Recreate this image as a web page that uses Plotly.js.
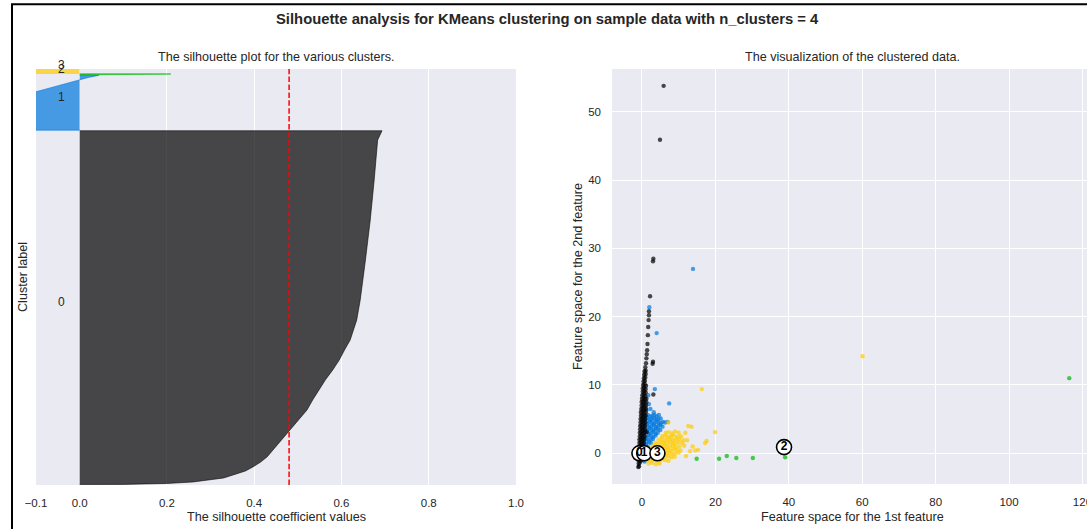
<!DOCTYPE html>
<html>
<head>
<meta charset="utf-8">
<script src="https://cdn.plot.ly/plotly-3.0.1.min.js"></script>
<style>
html,body{margin:0;padding:0;background:#fff;overflow:hidden;width:1087px;height:529px;}
#chart{width:1100px;height:529px;}
</style>
</head>
<body>
<div id="chart"></div>
<script>
// ---------------- DATA ----------------
const nClusters = 4;
const clusterLabels = ["0", "1", "2", "3"];
const silhouetteAvg = 0.48;

// silhouette outlines (sorted coefficient value vs sample position)
const sil0Values = [0.0, 0.1, 0.2, 0.26, 0.33, 0.353, 0.38, 0.398, 0.415, 0.430, 0.445, 0.460, 0.476, 0.490, 0.506, 0.521, 0.534, 0.544, 0.553, 0.563, 0.58, 0.595, 0.607, 0.62, 0.635, 0.643, 0.655, 0.666, 0.675, 0.683, 0.693];
const sil0Pos    = [10, 12, 30, 58, 135, 192, 269, 352, 442, 544, 692, 833, 981, 1121, 1288, 1442, 1635, 1769, 1885, 2019, 2211, 2404, 2596, 2788, 3173, 3558, 4327, 5096, 5865, 6635, 6813];
const sil1Values = [-0.4, -0.1, -0.05, 0.0, 0.02, 0.04, 0.045];
const sil1Pos    = [6823, 7563, 7683, 7802, 7837, 7871, 7885];
const sil2Values = [0.01, 0.209];
const sil2Pos    = [7895, 7905];
const sil3Values = [-0.35, -0.15];
const sil3Pos    = [7915, 7990];
const clusterLabelPos = [3411, 7354, 7890, 7961];
const silXTicks = [-0.1, 0.0, 0.2, 0.4, 0.6, 0.8, 1.0];

// scatter of clustered data
const c0x = [-1.0,-0.8,-0.9,-0.6,-1.0,-0.6,-0.3,-0.9,-0.5,-0.1,-0.9,-0.5,-0.1,0.3,-0.8,-0.4,0.0,0.4,-0.8,-0.4,0.0,0.4,-0.7,-0.3,0.1,0.5,-0.7,-0.3,0.1,0.6,-0.6,-0.2,0.2,0.7,-0.6,-0.2,0.2,0.7,1.3,-0.5,-0.1,0.3,0.8,-0.5,-0.1,0.3,0.8,-0.4,0.0,0.4,0.9,-0.4,0.0,0.4,0.9,-0.3,0.1,0.5,1.0,-0.3,0.1,0.5,1.0,-0.2,0.2,0.6,1.1,-0.1,0.3,0.7,1.1,-0.1,0.3,0.7,1.2,0.0,0.4,0.8,1.2,0.1,0.5,0.9,0.2,0.6,1.0,0.2,0.6,1.0,0.3,0.7,1.1,0.4,0.8,0.5,0.9,0.6,1.0,0.7,1.0,0.9,1.1,1.2,1.3,1.4,1.5,1.6,1.7,1.8,1.9,1.9,2.2,3.0,3.1,2.9,3.0,3.1,4.9,5.9];
const c0y = [-2.0,-1.9,-1.5,-1.4,-1.0,-0.9,-1.1,-0.5,-0.4,-0.6,0.0,0.1,-0.1,0.1,0.5,0.6,0.4,0.5,1.0,1.1,0.9,1.0,1.5,1.6,1.4,1.5,2.0,2.1,1.9,2.0,2.5,2.6,2.4,2.5,3.0,3.1,2.9,3.0,3.1,3.5,3.6,3.4,3.5,4.0,4.1,3.9,4.0,4.5,4.6,4.4,4.5,5.0,5.1,4.9,5.0,5.5,5.6,5.4,5.5,6.0,6.1,5.9,6.0,6.5,6.6,6.4,6.5,7.0,7.1,6.9,7.0,7.5,7.6,7.4,7.5,8.0,8.1,7.9,8.0,8.5,8.6,8.4,9.0,9.1,8.9,9.5,9.6,9.4,10.0,10.1,9.9,10.5,10.6,11.0,11.1,11.5,11.6,12.0,12.1,12.6,13.2,13.9,14.5,15.1,16.0,17.3,18.5,19.5,20.2,20.8,23.0,28.1,28.5,13.1,13.4,8.6,45.9,53.8];

const c1x = [1.0,1.6,2.2,2.8,3.4,4.0,0.9,1.5,2.1,2.7,3.3,3.9,4.5,5.1,0.9,1.5,2.1,2.7,3.3,3.9,4.5,5.1,5.7,6.3,7.0,0.8,1.4,2.0,2.6,3.2,3.8,4.4,5.0,5.6,0.8,1.4,2.0,2.6,3.2,3.8,4.4,5.0,0.7,1.3,1.9,2.5,3.1,3.7,4.3,0.7,1.3,1.9,2.5,3.1,3.7,0.6,1.2,1.8,2.4,3.0,0.6,1.2,1.8,2.4,0.5,1.1,1.7,0.5,1.1,0.4,1.0,0.3,0.9,0.3,0.7,2.0,4.0,3.5,7.4,1.7,13.9,2.3,1.2,3.2,1.9,4.6];
const c1y = [5.5,5.6,5.4,5.5,5.6,5.4,5.0,5.1,4.9,5.0,5.1,4.9,5.0,5.1,4.5,4.4,4.6,4.5,4.4,4.6,4.5,4.4,4.6,4.5,4.6,4.0,4.1,3.9,4.0,4.1,3.9,4.0,4.1,3.9,3.5,3.4,3.6,3.5,3.4,3.6,3.5,3.4,3.0,3.1,2.9,3.0,3.1,2.9,3.0,2.5,2.4,2.6,2.5,2.4,2.6,2.0,2.1,1.9,2.0,2.1,1.5,1.4,1.6,1.5,1.0,1.1,0.9,0.5,0.4,0.0,-0.1,-0.5,-0.6,-1.0,-1.2,21.4,17.6,9.4,7.3,8.5,27.0,6.5,6.3,6.0,7.2,5.6];

const c2x = [14.9, 21.0, 23.1, 25.7, 30.2, 39.0, 116.4];
const c2y = [-0.8, -0.8, -0.4, -0.7, -0.7, -0.6, 11.0];

const c3x = [6.5,7.3,8.2,9.0,10.0,5.5,6.3,7.1,7.9,8.7,9.6,10.6,4.5,5.3,6.1,6.9,7.7,8.5,9.3,10.2,11.3,3.6,4.4,5.2,6.0,6.8,7.6,8.4,9.2,10.0,11.0,2.8,3.6,4.4,5.2,6.0,6.8,7.6,8.4,9.2,10.2,11.5,2.2,3.0,3.8,4.6,5.4,6.2,7.0,7.8,8.6,9.5,10.5,1.8,2.6,3.4,4.2,5.0,5.8,6.6,7.4,8.2,9.0,10.0,1.6,2.4,3.2,4.0,4.8,5.6,6.4,7.2,8.0,8.9,1.5,2.3,3.1,3.9,4.7,5.5,6.3,7.2,1.8,2.8,3.8,4.8,16.3,19.9,17.6,17.2,15.3,14.5,13.1,13.5,12.6,12.3,7.2,60.1,11.8,13.8,12.0];
const c3y = [3.0,3.1,2.9,3.2,3.0,2.5,2.6,2.4,2.5,2.6,2.4,2.5,2.0,2.1,1.9,2.0,2.1,1.9,2.0,2.1,1.9,1.5,1.4,1.6,1.5,1.4,1.6,1.5,1.4,1.6,1.5,1.0,1.1,0.9,1.0,1.1,0.9,1.0,1.1,0.9,1.0,1.1,0.5,0.4,0.6,0.5,0.4,0.6,0.5,0.4,0.6,0.5,0.4,0.0,0.1,-0.1,0.0,0.1,-0.1,0.0,0.1,-0.1,0.0,0.1,-0.5,-0.4,-0.6,-0.5,-0.4,-0.6,-0.5,-0.4,-0.6,-0.5,-1.0,-1.1,-0.9,-1.0,-1.1,-0.9,-1.0,-1.1,-1.5,-1.4,-1.6,-1.5,9.4,3.1,1.8,1.5,0.5,0.4,0.3,3.9,4.0,1.9,4.5,14.2,3.0,1.0,-0.4];

const centerX = [-0.7, 0.6, 38.7, 4.2];
const centerY = [0.0, 0.0, 0.9, 0.0];
const featXTicks = [0, 20, 40, 60, 80, 100, 120];
const featYTicks = [0, 10, 20, 30, 40, 50];

// ---------------- STYLE ----------------
const W = 1100, H = 529;
const fx = p => p / W;
const fy = p => 1 - p / H;
const FONT = "Liberation Sans, Arial, sans-serif";
const TXT = "#262626";
const BG = "#EAEAF2";
const clusterRGB = ["0,0,0", "0,119,221", "0,187,0", "255,204,0"];
const rgba = (i, a) => "rgba(" + clusterRGB[i] + "," + a + ")";

function silPolygon(vals, pos) {
  const xs = [0], ys = [pos[0]];
  for (let i = 0; i < vals.length; i++) { xs.push(vals[i]); ys.push(pos[i]); }
  xs.push(0); ys.push(pos[pos.length - 1]);
  return {xs, ys};
}

const silSets = [[sil0Values, sil0Pos], [sil1Values, sil1Pos], [sil2Values, sil2Pos], [sil3Values, sil3Pos]];
const traces = [];
silSets.forEach((s, i) => {
  const p = silPolygon(s[0], s[1]);
  traces.push({
    type: "scatter", mode: "lines", x: p.xs, y: p.ys, xaxis: "x", yaxis: "y",
    fill: "toself", fillcolor: rgba(i, 0.7),
    line: {color: rgba(i, 0.7), width: i === 2 ? 1.6 : 0.8, shape: "linear"},
    hoverinfo: "skip"
  });
});

const scat = [[c1x, c1y, 1], [c3x, c3y, 3], [c0x, c0y, 0], [c2x, c2y, 2]];
scat.forEach(s => {
  traces.push({
    type: "scatter", mode: "markers", x: s[0], y: s[1], xaxis: "x2", yaxis: "y2",
    marker: {size: 4.4, color: rgba(s[2], 0.7), line: {width: 0}},
    hoverinfo: "skip"
  });
});
traces.push({
  type: "scatter", mode: "markers", x: centerX, y: centerY, xaxis: "x2", yaxis: "y2",
  marker: {size: 15, color: "white", line: {color: "black", width: 1.6}}, hoverinfo: "skip"
});
traces.push({
  type: "scatter", mode: "text", x: centerX, y: centerY, xaxis: "x2", yaxis: "y2",
  text: clusterLabels.map(t => "<b>" + t + "</b>"), textposition: "middle center",
  textfont: {family: FONT, size: 12, color: "black"}, hoverinfo: "skip"
});

const annotations = [
  {text: "<b>Silhouette analysis for KMeans clustering on sample data with n_clusters = " + nClusters + "</b>",
   x: fx(547), y: fy(19), font: {size: 14.8, color: TXT, family: FONT}},
  {text: "The silhouette plot for the various clusters.", x: fx(276), y: fy(57), font: {size: 12.6, color: TXT, family: FONT}},
  {text: "The visualization of the clustered data.", x: fx(852), y: fy(57), font: {size: 12.6, color: TXT, family: FONT}},
  {text: "The silhouette coefficient values", x: fx(276), y: fy(517), font: {size: 12.6, color: TXT, family: FONT}},
  {text: "Feature space for the 1st feature", x: fx(852), y: fy(517), font: {size: 12.6, color: TXT, family: FONT}},
  {text: "Cluster label", x: fx(23), y: fy(277), textangle: -90, font: {size: 12.6, color: TXT, family: FONT}},
  {text: "Feature space for the 2nd feature", x: fx(578), y: fy(277), textangle: -90, font: {size: 12.6, color: TXT, family: FONT}}
].map(a => Object.assign({xref: "paper", yref: "paper", showarrow: false, xanchor: "center", yanchor: "middle"}, a));

clusterLabels.forEach((t, i) => {
  annotations.push({text: t, x: -0.05, y: clusterLabelPos[i], xref: "x", yref: "y", showarrow: false,
    xanchor: "left", yanchor: "bottom", yshift: -3, xshift: -2, font: {size: 12, color: TXT, family: FONT}});
});

const axBase = {showgrid: true, gridcolor: "white", gridwidth: 1, zeroline: false, showline: false,
  ticks: "", tickfont: {size: 11.5, color: TXT, family: FONT}, fixedrange: true};

const layout = {
  width: W, height: H, margin: {l: 0, r: 0, t: 0, b: 0},
  paper_bgcolor: "white", plot_bgcolor: BG, showlegend: false,
  font: {family: FONT, color: TXT},
  xaxis: Object.assign({}, axBase, {domain: [fx(36), fx(516)], range: [-0.1, 1.0], anchor: "y",
    tickvals: silXTicks, tickformat: ".1f", ticklabelstandoff: 9}),
  yaxis: Object.assign({}, axBase, {domain: [fy(485), fy(69)], range: [0, 8000], anchor: "x",
    showgrid: false, showticklabels: false}),
  xaxis2: Object.assign({}, axBase, {domain: [fx(612), fx(1092)], range: [-8.17, 122.6], anchor: "y2",
    tickvals: featXTicks, ticklabelstandoff: 9}),
  yaxis2: Object.assign({}, axBase, {domain: [fy(484), fy(69)], range: [-4.5, 56.27], anchor: "x2",
    tickvals: featYTicks, ticklabelstandoff: 10}),
  shapes: [
    {type: "line", xref: "x", yref: "y domain", x0: silhouetteAvg, x1: silhouetteAvg, y0: 0, y1: 1,
     line: {color: "red", width: 1.5, dash: "5.5px,2.4px"}},
    {type: "path", xref: "paper", yref: "paper",
     path: "M " + fx(12) + " 0 L " + fx(12) + " " + fy(4.3) + " L 1 " + fy(4.3),
     line: {color: "black", width: 2}}
  ],
  annotations: annotations
};

Plotly.newPlot("chart", traces, layout, {staticPlot: true, displayModeBar: false});
</script>
</body>
</html>
